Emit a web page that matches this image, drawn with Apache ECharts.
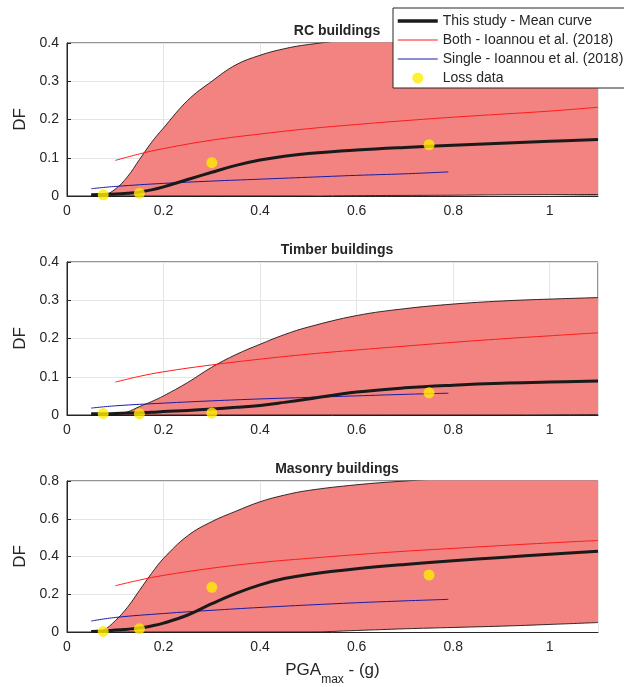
<!DOCTYPE html>
<html>
<head>
<meta charset="utf-8">
<script src="https://cdn.jsdelivr.net/npm/echarts@6/dist/echarts.min.js"></script>
<style>
  html, body { margin: 0; padding: 0; background: #fff; }
  #chart { width: 624px; height: 687px; }
</style>
</head>
<body>
<div id="chart"></div>
<script>
// PGA grid for the band and the mean curves
const xGrid = [0.05, 0.075, 0.1, 0.125, 0.15, 0.175, 0.2, 0.25, 0.3, 0.35, 0.4, 0.45, 0.5, 0.6, 0.7, 0.8, 0.9, 1.0, 1.1];

const rcUpper = [0, 0.002, 0.018, 0.05, 0.095, 0.14, 0.178, 0.25, 0.3, 0.343, 0.368, 0.385, 0.396, 0.41, 0.42, 0.427, 0.432, 0.436, 0.44];
const rcLower = [0, 0, 0, 0, 0, 0, 0, 0, 0, 0, 0, 0, 0, 0.001, 0.0015, 0.002, 0.003, 0.0035, 0.004];
const rcMean = [0.003, 0.004, 0.005, 0.007, 0.01, 0.016, 0.024, 0.043, 0.062, 0.08, 0.094, 0.104, 0.111, 0.12, 0.127, 0.133, 0.138, 0.143, 0.148];

const tbUpper = [0, 0, 0.002, 0.008, 0.022, 0.035, 0.05, 0.085, 0.125, 0.158, 0.185, 0.21, 0.23, 0.26, 0.278, 0.29, 0.298, 0.303, 0.307];
const tbLower = [0, 0, 0, 0, 0, 0, 0, 0, 0, 0, 0, 0, 0, 0, 0, 0, 0, 0.0005, 0.001];
const tbMean = [0.003, 0.003, 0.004, 0.005, 0.006, 0.007, 0.009, 0.012, 0.016, 0.02, 0.025, 0.033, 0.042, 0.06, 0.071, 0.078, 0.083, 0.086, 0.089];

const maUpper = [0, 0.01, 0.06, 0.13, 0.22, 0.31, 0.39, 0.51, 0.585, 0.64, 0.69, 0.725, 0.75, 0.78, 0.8, 0.815, 0.825, 0.832, 0.838];
const maLower = [0, 0, 0, 0, 0, 0, 0, 0, 0, 0, 0, 0, 0, 0.008, 0.017, 0.024, 0.031, 0.04, 0.05];
const maMean = [0.003, 0.005, 0.01, 0.015, 0.021, 0.032, 0.047, 0.09, 0.15, 0.205, 0.25, 0.283, 0.305, 0.335, 0.358, 0.377, 0.395, 0.412, 0.428];

// Ioannou et al. (2018) curves
const bothX = [0.1, 0.15, 0.2, 0.3, 0.4, 0.5, 0.6, 0.7, 0.8, 0.9, 1.0, 1.1];
const rcBoth = [0.093, 0.11, 0.124, 0.146, 0.162, 0.176, 0.187, 0.197, 0.206, 0.214, 0.222, 0.232];
const tbBoth = [0.086, 0.101, 0.113, 0.131, 0.146, 0.159, 0.17, 0.18, 0.19, 0.199, 0.207, 0.215];
const maBoth = [0.245, 0.275, 0.3, 0.338, 0.368, 0.39, 0.41, 0.428, 0.443, 0.458, 0.472, 0.485];

const singleX = [0.05, 0.1, 0.2, 0.3, 0.4, 0.5, 0.6, 0.7, 0.79];
const rcSingle = [0.019, 0.025, 0.033, 0.039, 0.044, 0.049, 0.054, 0.058, 0.063];
const tbSingle = [0.018, 0.024, 0.031, 0.037, 0.042, 0.046, 0.05, 0.054, 0.057];
const maSingle = [0.058, 0.077, 0.098, 0.115, 0.13, 0.143, 0.155, 0.165, 0.173];

// loss data points
const lossX = [0.075, 0.15, 0.3, 0.75];
const rcLoss = [0.003, 0.007, 0.087, 0.134];
const tbLoss = [0.004, 0.003, 0.005, 0.058];
const maLoss = [0.003, 0.017, 0.237, 0.302];

const titles = ['RC buildings', 'Timber buildings', 'Masonry buildings'];
const yMax = [0.4, 0.4, 0.8];
const yStep = [0.1, 0.1, 0.2];

const FONT = "'Liberation Sans', Arial, Helvetica, sans-serif";
const INK = '#262626';
const NAMES = ['This study - Mean curve', 'Both - Ioannou et al. (2018)', 'Single - Ioannou et al. (2018)', 'Loss data'];

const chart = echarts.init(document.getElementById('chart'));

const pairs = (xs, ys) => xs.map((x, k) => [x, ys[k]]);

const panels = [
    [rcUpper, rcLower, rcMean, rcBoth, rcSingle, rcLoss],
    [tbUpper, tbLower, tbMean, tbBoth, tbSingle, tbLoss],
    [maUpper, maLower, maMean, maBoth, maSingle, maLoss]
];
const gridTops = [43, 262, 481];
const gridHeights = [153, 153, 152];

const grids = [], xAxes = [], yAxes = [], series = [], titleList = [];

panels.forEach((p, i) => {
    const [upper, lower, mean, both, single, loss] = p;
    grids.push({
        left: 67, right: 26, top: gridTops[i], height: gridHeights[i],
        show: true, borderColor: INK, borderWidth: 1, backgroundColor: '#fff'
    });
    titleList.push({
        text: titles[i], left: 332, top: gridTops[i] - 24, textAlign: 'center',
        textStyle: { fontFamily: FONT, fontSize: 14, fontWeight: 'bold', color: INK }
    });
    xAxes.push({
        type: 'value', gridIndex: i, min: 0, max: 1.1, interval: 0.2,
        axisLine: { show: true, lineStyle: { color: INK } },
        axisTick: { inside: true, length: 4, lineStyle: { color: INK } },
        axisLabel: { showMaxLabel: false, color: INK, fontFamily: FONT, fontSize: 14, margin: 8 },
        splitLine: { show: true, lineStyle: { color: '#e4e4e4' } },
        name: i === 2 ? '{a|PGA}{s|max}{a| - (g)}' : '',
        nameLocation: 'middle', nameGap: 30,
        nameTextStyle: {
            rich: {
                a: { fontFamily: FONT, fontSize: 17, color: INK, lineHeight: 24, verticalAlign: 'top' },
                s: { fontFamily: FONT, fontSize: 12, color: INK, lineHeight: 24, verticalAlign: 'bottom' }
            }
        }
    });
    yAxes.push({
        type: 'value', gridIndex: i, min: 0, max: yMax[i], interval: yStep[i],
        axisLine: { show: true, lineStyle: { color: INK } },
        axisTick: { inside: true, length: 4, lineStyle: { color: INK } },
        axisLabel: { color: INK, fontFamily: FONT, fontSize: 14, margin: 8 },
        splitLine: { show: true, lineStyle: { color: '#e4e4e4' } },
        name: 'DF', nameLocation: 'middle', nameGap: 38, nameRotate: 90,
        nameTextStyle: { fontFamily: FONT, fontSize: 17, color: INK }
    });

    // band: upper curve filled down to the axis, then the part under the lower curve painted back white
    series.push({
        type: 'line', xAxisIndex: i, yAxisIndex: i,
        data: pairs(xGrid, upper), smooth: 0.4, symbol: 'none',
        lineStyle: { color: '#000', width: 0.8 },
        areaStyle: { color: '#f28380', opacity: 1 }, z: 1
    });
    series.push({
        type: 'line', xAxisIndex: i, yAxisIndex: i,
        data: pairs(xGrid, lower), smooth: 0.4, symbol: 'none',
        lineStyle: { color: '#000', width: 0.8 },
        areaStyle: { color: '#fff', opacity: 1 }, z: 1
    });
    series.push({
        name: NAMES[1], type: 'line', xAxisIndex: i, yAxisIndex: i,
        data: pairs(bothX, both), smooth: 0.4, symbol: 'none',
        lineStyle: { color: '#ff1a1a', width: 1 }, itemStyle: { color: '#ff1a1a' }, z: 3
    });
    series.push({
        name: NAMES[2], type: 'line', xAxisIndex: i, yAxisIndex: i,
        data: pairs(singleX, single), smooth: 0.4, symbol: 'none',
        lineStyle: { color: '#1a1aa6', width: 1 }, itemStyle: { color: '#1a1aa6' }, z: 3
    });
    series.push({
        name: NAMES[0], type: 'line', xAxisIndex: i, yAxisIndex: i,
        data: pairs(xGrid, mean), smooth: 0.4, symbol: 'none',
        lineStyle: { color: '#1a1a1a', width: 3 }, itemStyle: { color: '#1a1a1a' }, z: 4
    });
    series.push({
        name: NAMES[3], type: 'scatter', xAxisIndex: i, yAxisIndex: i,
        data: pairs(lossX, loss), symbol: 'circle', symbolSize: 11,
        itemStyle: { color: '#ffec00' }, z: 5
    });
});

const hideDot = { opacity: 0 };

chart.setOption({
    animation: false,
    textStyle: { fontFamily: FONT },
    title: titleList,
    grid: grids,
    xAxis: xAxes,
    yAxis: yAxes,
    legend: {
        data: [
            { name: NAMES[0], itemStyle: hideDot, lineStyle: { width: 3.5 } },
            { name: NAMES[1], itemStyle: hideDot, lineStyle: { width: 1 } },
            { name: NAMES[2], itemStyle: hideDot, lineStyle: { width: 1 } },
            { name: NAMES[3] }
        ],
        orient: 'vertical', left: 393, top: 8,
        padding: [6, 6, 3, 3], itemGap: 5, itemWidth: 40, itemHeight: 11,
        backgroundColor: '#fff', borderColor: INK, borderWidth: 1,
        textStyle: { fontFamily: FONT, fontSize: 14, color: INK },
        selectedMode: false, z: 10
    },
    series: series
});
</script>
</body>
</html>
